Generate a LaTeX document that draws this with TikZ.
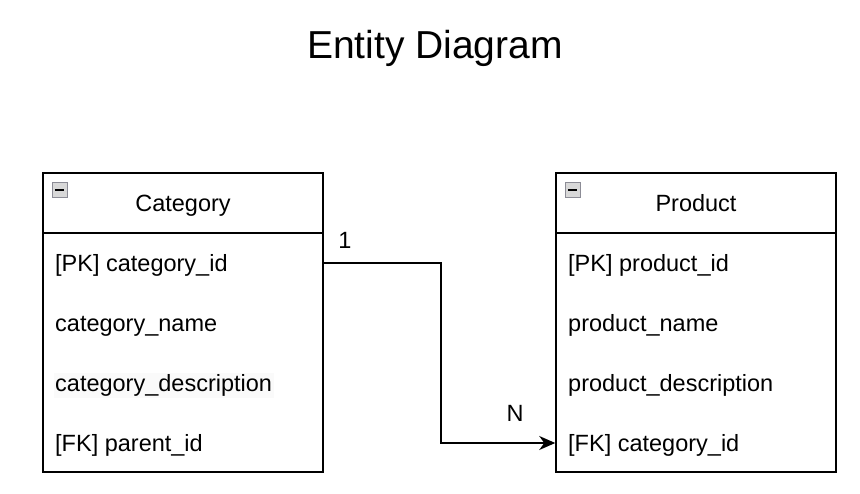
\documentclass[tikz,border=0pt]{standalone}
\usepackage{fontspec}
\setmainfont{Liberation Sans}
\usetikzlibrary{arrows.meta}
\definecolor{iconborder}{HTML}{8C8C96}
\definecolor{iconfill}{HTML}{D8D8D8}
\begin{document}
\begin{tikzpicture}[x=1pt,y=-1pt,
  entity/.style={draw,line width=1.5pt,rectangle,minimum width=280pt,minimum height=299pt,inner sep=0pt},
  rowtext/.style={anchor=base west,inner sep=0pt,font=\fontsize{23.5}{28}\selectfont},
  headtext/.style={anchor=base,inner sep=0pt,font=\fontsize{23.5}{28}\selectfont},
  card/.style={anchor=base,inner sep=0pt,font=\fontsize{23.5}{28}\selectfont},
  icon/.style={draw=iconborder,fill=iconfill,line width=1.2pt,minimum size=15pt,inner sep=0pt},
  conn/.style={line width=1.5pt,-{Stealth[length=16pt,width=14pt,inset=5pt]}}
]
\useasboundingbox (0,0) rectangle (860,494);
\node[font=\fontsize{39}{46}\selectfont,inner sep=0pt] (title) at (435,48) {Entity Diagram};

% Category
\node[entity] (cat) at (183,322.5) {};
\coordinate (catsepL) at (43,233);
\coordinate (catsepR) at (323,233);
\draw[line width=1.5pt] (catsepL) -- (catsepR);
\node[icon] (caticon) at (60,190) {};
\draw[line width=2pt] (caticon.west) ++(3,0) -- ++(9,0);
\node[headtext] (cath) at (183,211.5) {Category};
\node[rowtext] (c1) at (55,271.5) {[PK] category\_id};
\node[rowtext] (c2) at (55,331.5) {category\_name};
\node[rowtext,fill=gray!4,inner sep=1.5pt] (c3) at (53.5,391.5) {category\_description};
\node[rowtext] (c4) at (55,451.5) {[FK] parent\_id};

% Product
\node[entity] (prod) at (696,322.5) {};
\coordinate (prodsepL) at (556,233);
\coordinate (prodsepR) at (836,233);
\draw[line width=1.5pt] (prodsepL) -- (prodsepR);
\node[icon] (prodicon) at (573,190) {};
\draw[line width=2pt] (prodicon.west) ++(3,0) -- ++(9,0);
\node[headtext] (prodh) at (696,211.5) {Product};
\node[rowtext] (p1) at (568,271.5) {[PK] product\_id};
\node[rowtext] (p2) at (568,331.5) {product\_name};
\node[rowtext] (p3) at (568,391.5) {product\_description};
\node[rowtext] (p4) at (568,451.5) {[FK] category\_id};

% connector
\coordinate (c1y) at (0,263);
\coordinate (p4y) at (0,443);
\draw[conn] (cat.east |- c1y) -- ++(117,0) |- (prod.west |- p4y);
\node[card] (one) at (345,248.5) {1};
\node[card] (many) at (515,421.5) {N};
\end{tikzpicture}
\end{document}
